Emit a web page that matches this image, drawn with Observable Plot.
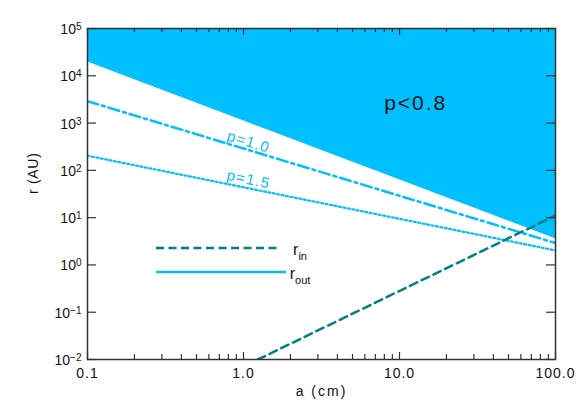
<!DOCTYPE html>
<html><head><meta charset="utf-8">
<script src="https://cdn.jsdelivr.net/npm/d3@7"></script>
<script src="https://cdn.jsdelivr.net/npm/@observablehq/plot@0.6"></script>
<style>
body{margin:0;background:#fff}
#wrap{position:relative;width:581px;height:415px}
</style>
</head><body><div id="wrap"></div>
<script>
// axis domains
const aDomain = [0.1, 100];
const rDomain = [0.01, 1e5];
// r_out boundary (p<0.8 region above it)
const outA = [0.1, 100];
const outR = [20700, 3.76];
// p = 1.0 (dash-dot)
const p10A = [0.1, 100];
const p10R = [2900, 2.9];
// p = 1.5 (dotted)
const p15A = [0.1, 100];
const p15R = [204, 2.03];
// r_in (dashed)
const inA = [1.236, 100];
const inR = [0.01, 11.1];
// ticks
const xMajor = [0.1, 1, 10, 100];
const xMajorLabels = ["0.1", "1.0", "10.0", "100.0"];
const xMinor = [0.2,0.3,0.4,0.5,0.6,0.7,0.8,0.9,2,3,4,5,6,7,8,9,20,30,40,50,60,70,80,90];
const yMajor = [1e-2,1e-1,1e0,1e1,1e2,1e3,1e4,1e5];
const yExp = ["\u22122","\u22121","0","1","2","3","4","5"];
// annotations
const regionLabel = [{a: 12.7, r: 2600, text: "p<0.8"}];
const pLabels = [
  {a: 1.077, r: 398, text: "p=1.0", angle: 17},
  {a: 1.077, r: 64, text: "p=1.5", angle: 11.5}
];
const legendItems = [
  {name: "r", sub: "in", color: "#008080", dash: "8,4.5", len: 124},
  {name: "r", sub: "out", color: "#00bfff", dash: null, len: 130}
];

const sky = "#00bfff", teal = "#008080";
const FONT = "Liberation Sans, Arial, sans-serif";
const zip = (A, R) => A.map((a, i) => ({a, r: R[i]}));
const W = 581, H = 415, mL = 87, mR = 26, mT = 28, mB = 56;
const iW = W - mL - mR, iH = H - mT - mB;
const axisInk = "#333";

const plot = Plot.plot({
  width: W, height: H,
  marginLeft: mL, marginRight: mR, marginTop: mT, marginBottom: mB,
  x: {type: "log", domain: aDomain, axis: null},
  y: {type: "log", domain: rDomain, axis: null},
  style: {fontFamily: FONT, fontSize: "14px", background: "white", color: "#111"},
  marks: [
    Plot.areaY(zip(outA, outR), {x: "a", y1: "r", y2: () => rDomain[1], fill: sky, clip: true}),
    Plot.line(zip(outA, outR), {x: "a", y: "r", stroke: sky, strokeWidth: 1.5, clip: true}),
    Plot.line(zip(p10A, p10R), {x: "a", y: "r", stroke: sky, strokeWidth: 2.5, strokeDasharray: "11,4,3,4", clip: true}),
    Plot.line(zip(p15A, p15R), {x: "a", y: "r", stroke: sky, strokeWidth: 2.2, strokeDasharray: "2,2.5", clip: true}),
    Plot.line(zip(inA, inR), {x: "a", y: "r", stroke: teal, strokeWidth: 2.5, strokeDasharray: "8,5", clip: true}),
    Plot.text(regionLabel, {x: "a", y: "r", text: "text", fontSize: 21, fill: "#111"}),
    ...pLabels.map(d => Plot.text([d], {x: "a", y: "r", text: "text", rotate: d.angle, fontSize: 15, fill: sky})),
    Plot.frame({stroke: axisInk, strokeWidth: 1.5}),
    // x ticks bottom/top
    Plot.tickX(xMajor, {x: d => d, insetTop: iH - 7, stroke: axisInk, strokeWidth: 1.2}),
    Plot.tickX(xMajor, {x: d => d, insetBottom: iH - 7, stroke: axisInk, strokeWidth: 1.2}),
    Plot.tickX(xMinor, {x: d => d, insetTop: iH - 5, stroke: axisInk, strokeWidth: 1.2}),
    Plot.tickX(xMinor, {x: d => d, insetBottom: iH - 4, stroke: axisInk, strokeWidth: 1.2}),
    // y ticks left/right
    Plot.tickY(yMajor, {y: d => d, insetRight: iW - 9, stroke: axisInk, strokeWidth: 1.2}),
    Plot.tickY(yMajor, {y: d => d, insetLeft: iW - 9, stroke: axisInk, strokeWidth: 1.2}),
    // tick labels
    Plot.text(xMajor, {x: d => d, frameAnchor: "bottom", dy: 18, text: (d, i) => xMajorLabels[i], fontSize: 14}),
    Plot.text(yMajor, {y: d => d, frameAnchor: "left", dx: -6, dy: 1, textAnchor: "end", text: (d, i) => "10|" + yExp[i], fontSize: 14}),
    // axis labels
    Plot.text(["a (cm)"], {frameAnchor: "bottom", dy: 36, text: d => d, fontSize: 14}),
    Plot.text(["r (AU)"], {frameAnchor: "left", dx: -54, rotate: -90, text: d => d, fontSize: 14})
  ]
});
const wrap = document.getElementById("wrap");
wrap.appendChild(plot);

// typographic tweaks: superscript exponents, wider letter spacing like the original font
const spacing = {"a (cm)": 2, "r (AU)": 0.7, "p<0.8": 2, "p=1.0": 1.2, "p=1.5": 1.2};
xMajorLabels.forEach(s => spacing[s] = 1);
d3.select(plot).selectAll("text").each(function() {
  const t = d3.select(this);
  const s = t.text();
  if (s.startsWith("10|")) {
    const [base, ex] = s.split("|");
    t.text(null);
    t.append("tspan").text(base);
    t.append("tspan").attr("dy", -4).attr("font-size", 10).text(ex);
  } else if (spacing[s] != null) {
    t.attr("letter-spacing", spacing[s]);
  }
});

// legend (inside the plot area, drawn into the same SVG)
const svg = d3.select(plot);
const lg = svg.append("g").attr("font-family", FONT).attr("fill", "#111");
const legX = 156, legY = 248, legStep = 24, legText = 300;
legendItems.forEach((it, i) => {
  const y = legY + i * legStep;
  lg.append("line").attr("x1", legX).attr("x2", legX + it.len).attr("y1", y).attr("y2", y)
    .attr("stroke", it.color).attr("stroke-width", 2.5).attr("stroke-dasharray", it.dash);
  const t = lg.append("text").attr("x", legText).attr("y", y + 7).attr("font-size", 16);
  t.append("tspan").text(it.name);
  t.append("tspan").attr("dy", 5).attr("font-size", 11).text(it.sub);
});
</script>
</body></html>
